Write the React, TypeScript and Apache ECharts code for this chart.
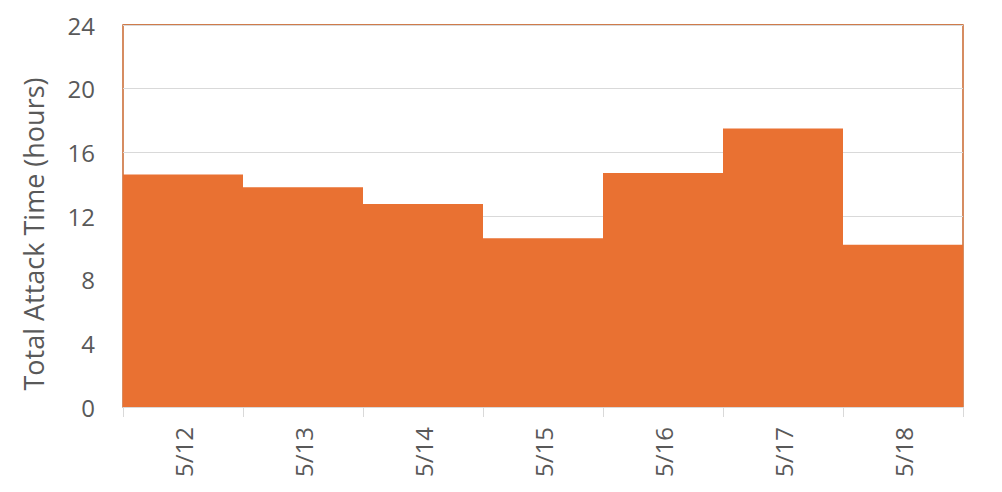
import { useEffect, useRef } from 'react';
import * as echarts from 'echarts';

const days = ['5/12', '5/13', '5/14', '5/15', '5/16', '5/17', '5/18'];
const attackHours = [14.6, 13.8, 12.75, 10.6, 14.7, 17.5, 10.2];
const yTicks = [0, 4, 8, 12, 16, 20, 24];

const FONT = '"Open Sans", "Noto Sans", sans-serif';
const TEXT = '#595959';

const App = () => {
  const chartRef = useRef<HTMLDivElement>(null);

  useEffect(() => {
    if (!chartRef.current) return;
    const chart = echarts.init(chartRef.current, undefined, { renderer: 'svg' });

    const options: echarts.EChartsOption = {
      animation: false,
      backgroundColor: '#ffffff',
      textStyle: { fontFamily: FONT },
      grid: {
        left: 123,
        right: 39,
        top: 25,
        bottom: 85,
        show: true,
        borderColor: '#C0500F',
        borderWidth: 1.3,
        backgroundColor: 'transparent'
      },
      xAxis: {
        type: 'category',
        data: days,
        axisLine: { show: true, lineStyle: { color: '#d9d9d9', width: 1 } },
        axisTick: { show: true, length: 10, lineStyle: { color: '#d9d9d9' } },
        axisLabel: {
          rotate: 90,
          margin: 20,
          color: TEXT,
          fontSize: 24,
          fontFamily: FONT
        },
        z: 5
      },
      yAxis: {
        type: 'value',
        min: yTicks[0],
        max: yTicks[yTicks.length - 1],
        interval: 4,
        axisLine: { show: false },
        axisTick: { show: false },
        splitLine: { show: true, lineStyle: { color: '#d9d9d9', width: 1 } },
        axisLabel: {
          color: TEXT,
          fontSize: 24,
          margin: 28,
          fontFamily: FONT
        }
      },
      graphic: [
        {
          type: 'text',
          x: 33,
          y: 234,
          rotation: Math.PI / 2,
          style: {
            text: 'Total Attack Time (hours)',
            fill: TEXT,
            font: `27px ${FONT}`,
            align: 'center',
            verticalAlign: 'middle'
          }
        }
      ],
      series: [
        {
          type: 'bar',
          data: attackHours,
          barWidth: '100%',
          barCategoryGap: 0,
          itemStyle: { color: '#E97132' }
        }
      ]
    };

    chart.setOption(options);
    return () => {
      chart.dispose();
    };
  }, []);

  return <div ref={chartRef} style={{ width: 1002, height: 492, margin: -8 }} />;
};

export default App;
